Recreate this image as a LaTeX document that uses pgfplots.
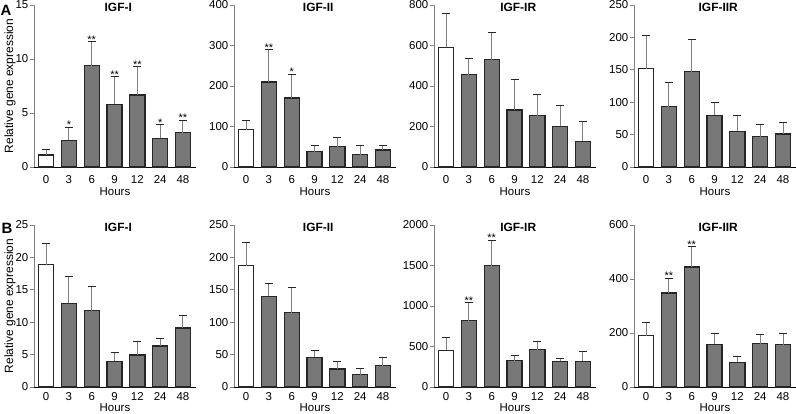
\documentclass[border=0pt]{standalone}
\usepackage{fontspec}
\setmainfont{Liberation Sans}
\usepackage{pgfplots}
\pgfplotsset{compat=1.18}
\definecolor{barfill}{gray}{0.47}
\definecolor{baredge}{gray}{0.15}
\definecolor{errcol}{gray}{0.5}
\pgfplotsset{
  panel/.style={
    scale only axis, width=162bp, height=162bp,
    axis lines*=left, axis line style={-},
    x axis line style={draw=black, line width=0.8bp},
    y axis line style={draw=gray, line width=0.8bp},
    xmin=-0.53, xmax=6.57, ymin=0,
    xtick={0,...,6}, xticklabels={0,3,6,9,12,24,48},
    xtick style={draw=none},
    ytick style={draw=gray, line width=0.8bp},
    tick align=outside, major tick length=4bp,
    /pgf/number format/assume math mode=true,
    /pgf/number format/1000 sep={},
    scaled y ticks=false,
    tick label style={font=\fontsize{11.5}{12}\selectfont},
    yticklabel style={inner sep=1.5bp},
    xticklabel style={inner sep=2bp, yshift=-2bp},
    xlabel={Hours},
    every axis x label/.style={at={(rel axis cs:0.5,0)}, anchor=center, inner sep=0pt, yshift=-25bp, font=\fontsize{11.5}{12}\selectfont},
    every axis title/.style={at={(rel axis cs:0.52,1)}, anchor=center, yshift=-2bp, font=\bfseries\fontsize{12}{12}\selectfont},
    clip=false,
  },
  rowB/.style={
    xticklabel style={inner sep=1bp, yshift=2bp},
    every axis x label/.style={at={(rel axis cs:0.5,0)}, anchor=center, inner sep=0pt, yshift=-21bp, font=\fontsize{11.5}{12}\selectfont},
  },
  whitebar/.style={ybar, bar width=0.66, bar shift=0pt, fill=white, draw=baredge, line width=1.3bp,
    error bars/.cd, y dir=plus, y explicit,
    error bar style={draw=errcol, line width=1bp},
    error mark options={rotate=90, mark size=4bp, draw=baredge, line width=1bp}},
  graybar/.style={ybar, bar width=0.66, bar shift=0pt, fill=barfill, draw=baredge, line width=1.3bp,
    error bars/.cd, y dir=plus, y explicit,
    error bar style={draw=errcol, line width=1bp},
    error mark options={rotate=90, mark size=4bp, draw=baredge, line width=1bp}},
  stars/.style={draw=none, mark=none, nodes near coords, point meta=explicit symbolic,
    nodes near coords style={font=\fontsize{11}{11}\selectfont, anchor=base, inner sep=0pt, yshift=-1.5bp}},
  ylab/.style={ylabel={Relative gene expression},
    every axis y label/.style={at={(rel axis cs:0,0.5)}, xshift=-24bp, rotate=90, anchor=center, font=\fontsize{12}{12}\selectfont}},
}
\begin{document}
\begin{tikzpicture}
\path[use as bounding box] (0bp,0bp) rectangle (796bp,414bp);
\node[font=\bfseries\fontsize{15}{15}\selectfont] at (6bp,404bp) {A};
\node[font=\bfseries\fontsize{15}{15}\selectfont] at (7bp,186bp) {B};

% ---------- Row A ----------
\begin{axis}[panel, at={(34bp,247bp)}, anchor=south west, title={IGF-I}, ymax=15, ytick={0,5,10,15}, ylab]
\addplot[whitebar] coordinates {(0,1.1) +- (0,0.54)};
\addplot[graybar] coordinates {(1,2.47) +- (0,1.2) (2,9.38) +- (0,2.2) (3,5.8) +- (0,2.56) (4,6.67) +- (0,2.62) (5,2.65) +- (0,1.27) (6,3.18) +- (0,1.17)};
\addplot[stars] coordinates {(1,3.67) [*] (2,11.58) [**] (3,8.36) [**] (4,9.29) [**] (5,3.92) [*] (6,4.35) [**]};
\end{axis}

\begin{axis}[panel, at={(234bp,247bp)}, anchor=south west, title={IGF-II}, ymax=400, ytick={0,100,...,400}]
\addplot[whitebar] coordinates {(0,92) +- (0,22)};
\addplot[graybar] coordinates {(1,210) +- (0,80) (2,170) +- (0,59) (3,38) +- (0,16) (4,50) +- (0,24) (5,30) +- (0,24) (6,42) +- (0,10)};
\addplot[stars] coordinates {(1,290) [**] (2,229) [*]};
\end{axis}

\begin{axis}[panel, at={(434bp,247bp)}, anchor=south west, title={IGF-IR}, ymax=800, ytick={0,200,...,800}]
\addplot[whitebar] coordinates {(0,591) +- (0,166)};
\addplot[graybar] coordinates {(1,456) +- (0,79) (2,530) +- (0,132) (3,281) +- (0,149) (4,253) +- (0,107) (5,201) +- (0,102) (6,127) +- (0,98)};
\end{axis}

\begin{axis}[panel, at={(634bp,247bp)}, anchor=south west, title={IGF-IIR}, ymax=250, ytick={0,50,...,250}]
\addplot[whitebar] coordinates {(0,152) +- (0,51)};
\addplot[graybar] coordinates {(1,93) +- (0,38) (2,147) +- (0,49) (3,80) +- (0,19) (4,55) +- (0,24) (5,47) +- (0,19) (6,51) +- (0,18)};
\end{axis}

% ---------- Row B ----------
\begin{axis}[panel, rowB, at={(34bp,27bp)}, anchor=south west, title={IGF-I}, ymax=25, ytick={0,5,...,25}, ylab]
\addplot[whitebar] coordinates {(0,18.9) +- (0,3.3)};
\addplot[graybar] coordinates {(1,12.9) +- (0,4.2) (2,11.8) +- (0,3.7) (3,3.94) +- (0,1.46) (4,4.96) +- (0,2.1) (5,6.34) +- (0,1.16) (6,9.1) +- (0,2.0)};
\end{axis}

\begin{axis}[panel, rowB, at={(234bp,27bp)}, anchor=south west, title={IGF-II}, ymax=250, ytick={0,50,...,250}]
\addplot[whitebar] coordinates {(0,187) +- (0,36)};
\addplot[graybar] coordinates {(1,140) +- (0,20) (2,114.5) +- (0,38.5) (3,46) +- (0,11) (4,27.6) +- (0,12.4) (5,19) +- (0,9) (6,32.7) +- (0,12.3)};
\end{axis}

\begin{axis}[panel, rowB, at={(434bp,27bp)}, anchor=south west, title={IGF-IR}, ymax=2000, ytick={0,500,...,2000}]
\addplot[whitebar] coordinates {(0,454) +- (0,155)};
\addplot[graybar] coordinates {(1,818) +- (0,225) (2,1497) +- (0,315) (3,323) +- (0,61) (4,462) +- (0,102) (5,319) +- (0,37) (6,319) +- (0,123)};
\addplot[stars] coordinates {(1,1043) [**] (2,1812) [**]};
\end{axis}

\begin{axis}[panel, rowB, at={(634bp,27bp)}, anchor=south west, title={IGF-IIR}, ymax=600, ytick={0,200,...,600}]
\addplot[whitebar] coordinates {(0,190) +- (0,49)};
\addplot[graybar] coordinates {(1,348) +- (0,54) (2,444) +- (0,76) (3,158) +- (0,41) (4,92) +- (0,21) (5,160) +- (0,36) (6,157) +- (0,42)};
\addplot[stars] coordinates {(1,402) [**] (2,520) [**]};
\end{axis}
\end{tikzpicture}
\end{document}
